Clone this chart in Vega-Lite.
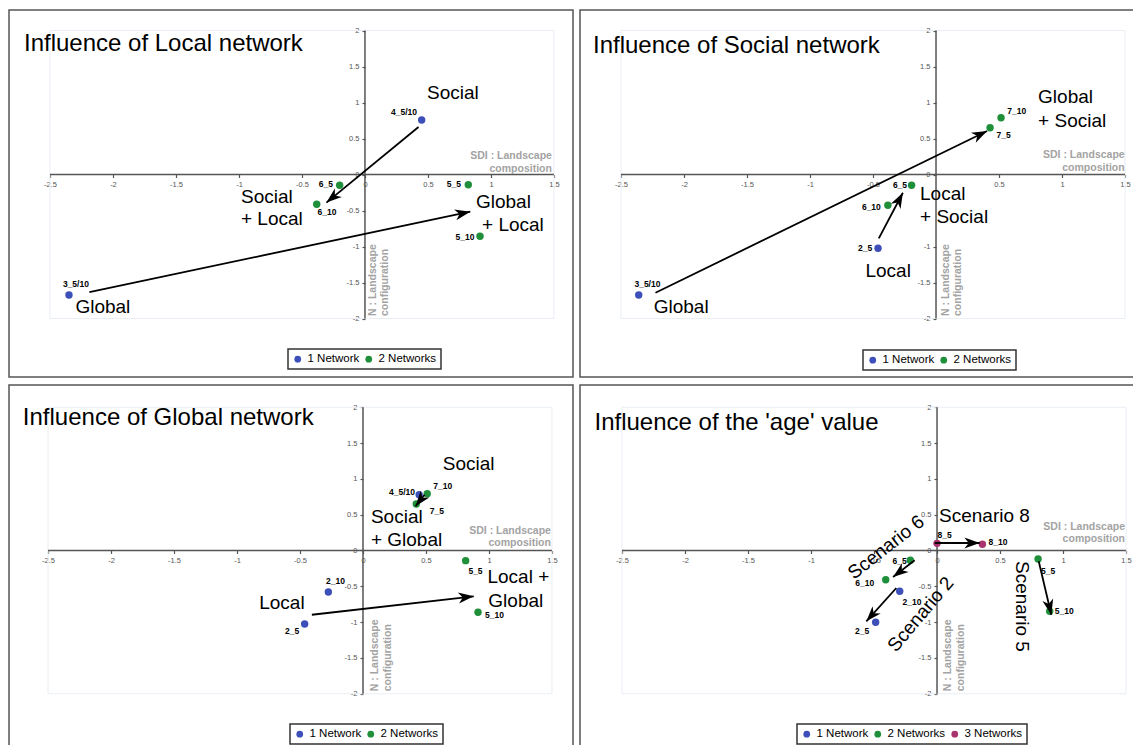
{
"$schema": "https://vega.github.io/schema/vega-lite/v6.json",
"padding": {"left": 8, "top": 9, "right": 0, "bottom": 0},
"background": "#ffffff",
"config": {
  "font": "Liberation Sans",
  "view": {"stroke": "#555555", "strokeWidth": 1.5},
  "locale": {"number": {"decimal": ".", "thousands": ",", "grouping": [3], "currency": ["$", ""], "minus": "-"}},
  "legend": {"labelFont": "Liberation Sans", "labelFontSize": 11.5, "labelColor": "#000000", "symbolType": "circle", "symbolSize": 45, "strokeColor": "#333333", "strokeWidth": 1.5, "padding": 4, "columnPadding": 3, "labelOffset": 4, "fillColor": "#ffffff", "symbolStrokeWidth": 0},
  "axis": {"title": null, "domain": false, "grid": false, "tickSize": 3, "tickColor": "#555555", "tickWidth": 1.2, "labelFontSize": 7.5, "labelColor": "#555555", "labelPadding": 3, "labelFlush": false, "labelOverlap": false, "format": "~g"}
},
"datasets": {
  "frame": [{"x": -2.5, "x2": 1.5, "y": -2, "y2": 2}],
  "axislines": [{"x": -2.5, "x2": 1.5, "y": 0, "y2": 0}, {"x": 0, "x2": 0, "y": -2, "y2": 2}],
  "points": [
    {"panel": 1, "id": "4_5/10", "net": "1 Network", "x": 0.45, "y": 0.757},
    {"panel": 1, "id": "3_5/10", "net": "1 Network", "x": -2.349, "y": -1.674},
    {"panel": 1, "id": "6_5", "net": "2 Networks", "x": -0.201, "y": -0.15},
    {"panel": 1, "id": "6_10", "net": "2 Networks", "x": -0.383, "y": -0.414},
    {"panel": 1, "id": "5_5", "net": "2 Networks", "x": 0.82, "y": -0.142},
    {"panel": 1, "id": "5_10", "net": "2 Networks", "x": 0.913, "y": -0.858},
    {"panel": 2, "id": "3_5/10", "net": "1 Network", "x": -2.359, "y": -1.674},
    {"panel": 2, "id": "2_5", "net": "1 Network", "x": -0.46, "y": -1.025},
    {"panel": 2, "id": "6_10", "net": "2 Networks", "x": -0.382, "y": -0.428},
    {"panel": 2, "id": "6_5", "net": "2 Networks", "x": -0.194, "y": -0.15},
    {"panel": 2, "id": "7_5", "net": "2 Networks", "x": 0.429, "y": 0.65},
    {"panel": 2, "id": "7_10", "net": "2 Networks", "x": 0.516, "y": 0.789},
    {"panel": 3, "id": "4_5/10", "net": "1 Network", "x": 0.446, "y": 0.779},
    {"panel": 3, "id": "7_10", "net": "2 Networks", "x": 0.51, "y": 0.793},
    {"panel": 3, "id": "7_5", "net": "2 Networks", "x": 0.423, "y": 0.649},
    {"panel": 3, "id": "2_10", "net": "1 Network", "x": -0.275, "y": -0.58},
    {"panel": 3, "id": "2_5", "net": "1 Network", "x": -0.463, "y": -1.027},
    {"panel": 3, "id": "5_5", "net": "2 Networks", "x": 0.815, "y": -0.142},
    {"panel": 3, "id": "5_10", "net": "2 Networks", "x": 0.913, "y": -0.863},
    {"panel": 4, "id": "8_5", "net": "3 Networks", "x": 0.0, "y": 0.1},
    {"panel": 4, "id": "8_10", "net": "3 Networks", "x": 0.36, "y": 0.087},
    {"panel": 4, "id": "6_5", "net": "2 Networks", "x": -0.212, "y": -0.137},
    {"panel": 4, "id": "6_10", "net": "2 Networks", "x": -0.407, "y": -0.408},
    {"panel": 4, "id": "2_10", "net": "1 Network", "x": -0.296, "y": -0.57},
    {"panel": 4, "id": "2_5", "net": "1 Network", "x": -0.487, "y": -1.003},
    {"panel": 4, "id": "5_5", "net": "2 Networks", "x": 0.802, "y": -0.119},
    {"panel": 4, "id": "5_10", "net": "2 Networks", "x": 0.894, "y": -0.849}
  ],
  "smalllabels": [
    {"panel": 1, "text": "4_5/10", "x": 0.31, "y": 0.868},
    {"panel": 1, "text": "3_5/10", "x": -2.294, "y": -1.521},
    {"panel": 1, "text": "6_5", "x": -0.31, "y": -0.132},
    {"panel": 1, "text": "6_10", "x": -0.302, "y": -0.521},
    {"panel": 1, "text": "5_5", "x": 0.706, "y": -0.132},
    {"panel": 1, "text": "5_10", "x": 0.794, "y": -0.868},
    {"panel": 2, "text": "3_5/10", "x": -2.29, "y": -1.521},
    {"panel": 2, "text": "2_5", "x": -0.563, "y": -1.021},
    {"panel": 2, "text": "6_10", "x": -0.513, "y": -0.447},
    {"panel": 2, "text": "6_5", "x": -0.286, "y": -0.146},
    {"panel": 2, "text": "7_5", "x": 0.536, "y": 0.549},
    {"panel": 2, "text": "7_10", "x": 0.641, "y": 0.882},
    {"panel": 3, "text": "4_5/10", "x": 0.31, "y": 0.813},
    {"panel": 3, "text": "7_10", "x": 0.633, "y": 0.897},
    {"panel": 3, "text": "7_5", "x": 0.587, "y": 0.556},
    {"panel": 3, "text": "2_10", "x": -0.218, "y": -0.422},
    {"panel": 3, "text": "2_5", "x": -0.563, "y": -1.12},
    {"panel": 3, "text": "5_5", "x": 0.893, "y": -0.29},
    {"panel": 3, "text": "5_10", "x": 1.044, "y": -0.9},
    {"panel": 4, "text": "8_5", "x": 0.061, "y": 0.21},
    {"panel": 4, "text": "8_10", "x": 0.484, "y": 0.115},
    {"panel": 4, "text": "6_5", "x": -0.296, "y": -0.15},
    {"panel": 4, "text": "6_10", "x": -0.574, "y": -0.45},
    {"panel": 4, "text": "2_10", "x": -0.198, "y": -0.72},
    {"panel": 4, "text": "2_5", "x": -0.595, "y": -1.12},
    {"panel": 4, "text": "5_5", "x": 0.881, "y": -0.28},
    {"panel": 4, "text": "5_10", "x": 1.01, "y": -0.85}
  ],
  "arrows": [
    {"panel": 1, "x2": 0.425, "y2": 0.66, "x": -0.306, "y": -0.39},
    {"panel": 1, "x2": -2.187, "y2": -1.632, "x": 0.836, "y": -0.517},
    {"panel": 2, "x2": -2.226, "y2": -1.642, "x": 0.406, "y": 0.604},
    {"panel": 2, "x2": -0.454, "y2": -0.886, "x": -0.263, "y": -0.253},
    {"panel": 3, "x2": 0.489, "y2": 0.779, "x": 0.417, "y": 0.617},
    {"panel": 3, "x2": -0.406, "y2": -0.897, "x": 0.879, "y": -0.64},
    {"panel": 4, "x2": -0.018, "y2": 0.105, "x": 0.339, "y": 0.105},
    {"panel": 4, "x2": -0.177, "y2": -0.137, "x": -0.349, "y": -0.37},
    {"panel": 4, "x2": -0.323, "y2": -0.524, "x": -0.561, "y": -0.989},
    {"panel": 4, "x2": 0.807, "y2": -0.151, "x": 0.907, "y": -0.897}
  ],
  "biglabels": [
    {"panel": 1, "text": "Social", "x": 0.492, "y": 1.049},
    {"panel": 1, "text": "Social", "x": -0.984, "y": -0.396},
    {"panel": 1, "text": "+ Local", "x": -0.984, "y": -0.7},
    {"panel": 1, "text": "Global", "x": 0.881, "y": -0.465},
    {"panel": 1, "text": "+ Local", "x": 0.929, "y": -0.785},
    {"panel": 1, "text": "Global", "x": -2.298, "y": -1.924},
    {"panel": 2, "text": "Global", "x": 0.81, "y": 0.993},
    {"panel": 2, "text": "+ Social", "x": 0.81, "y": 0.66},
    {"panel": 2, "text": "Local", "x": -0.127, "y": -0.354},
    {"panel": 2, "text": "+ Social", "x": -0.127, "y": -0.674},
    {"panel": 2, "text": "Local", "x": -0.56, "y": -1.424},
    {"panel": 2, "text": "Global", "x": -2.24, "y": -1.924},
    {"panel": 3, "text": "Social", "x": 0.633, "y": 1.12},
    {"panel": 3, "text": "Social", "x": 0.063, "y": 0.384},
    {"panel": 3, "text": "+ Global", "x": 0.063, "y": 0.059},
    {"panel": 3, "text": "Local +", "x": 0.988, "y": -0.454},
    {"panel": 3, "text": "Global", "x": 0.995, "y": -0.785},
    {"panel": 3, "text": "Local", "x": -0.824, "y": -0.817},
    {"panel": 4, "text": "Scenario 8", "x": 0.016, "y": 0.394},
    {"panel": 4, "text": "Scenario 6", "x": -0.659, "y": -0.412},
    {"panel": 4, "text": "Scenario 2", "x": -0.325, "y": -1.432},
    {"panel": 4, "text": "Scenario 5", "x": 0.627, "y": -0.147}
  ],
  "axtitles": [
    {"panel": 1, "kind": "sdi", "text": "SDI : Landscape\ncomposition", "x": 1.484, "y": 0.215},
    {"panel": 1, "kind": "n", "text": "N : Landscape\nconfiguration", "x": 0.087, "y": -1.965},
    {"panel": 2, "kind": "sdi", "text": "SDI : Landscape\ncomposition", "x": 1.497, "y": 0.229},
    {"panel": 2, "kind": "n", "text": "N : Landscape\nconfiguration", "x": 0.103, "y": -1.965},
    {"panel": 3, "kind": "sdi", "text": "SDI : Landscape\ncomposition", "x": 1.492, "y": 0.235},
    {"panel": 3, "kind": "n", "text": "N : Landscape\nconfiguration", "x": 0.12, "y": -1.966},
    {"panel": 4, "kind": "sdi", "text": "SDI : Landscape\ncomposition", "x": 1.492, "y": 0.29},
    {"panel": 4, "kind": "n", "text": "N : Landscape\nconfiguration", "x": 0.111, "y": -1.966}
  ],
  "titles": [
    {"panel": 1, "text": "Influence of Local network", "x": -2.706, "y": 1.715},
    {"panel": 2, "text": "Influence of Social network", "x": -2.722, "y": 1.69},
    {"panel": 3, "text": "Influence of Global network", "x": -2.7, "y": 1.757},
    {"panel": 4, "text": "Influence of the 'age' value", "x": -2.718, "y": 1.687}
  ]
},
"resolve": {"scale": {"color": "independent"}, "legend": {"color": "independent"}},
"spacing": 6,
"vconcat": [
 {
  "spacing": 5,
  "resolve": {"scale": {"color": "independent"}, "legend": {"color": "independent"}},
  "hconcat": [
   {
    "width": 564, "height": 367,
    "encoding": {
      "x": {"field": "x", "type": "quantitative", "scale": {"domain": [-2.825, 1.651], "nice": false, "zero": false}, "axis": {"title": null, "values": [-2.5, -2, -1.5, -1, -0.5, 0, 0.5, 1, 1.5], "offset": -202.5}},
      "y": {"field": "y", "type": "quantitative", "scale": {"domain": [-2.8125, 2.285], "nice": false, "zero": false}, "axis": {"title": null, "values": [-2, -1.5, -1, -0.5, 0, 0.5, 1, 1.5, 2], "offset": -356}}
    },
    "layer": [
      {"data": {"name": "frame"}, "mark": {"type": "rect", "fillOpacity": 0, "stroke": "#e9eef4", "strokeWidth": 1}, "encoding": {"x2": {"field": "x2"}, "y2": {"field": "y2"}}},
      {"data": {"name": "axislines"}, "mark": {"type": "rule", "color": "#555555", "strokeWidth": 1.5}, "encoding": {"x2": {"field": "x2"}, "y2": {"field": "y2"}}},
      {"data": {"name": "points"}, "transform": [{"filter": "datum.panel == 1"}], "mark": {"type": "point", "filled": true, "size": 55, "opacity": 1}, "encoding": {"color": {"field": "net", "type": "nominal", "scale": {"domain": ["1 Network", "2 Networks"], "range": ["#3d4fb8", "#1f8f3a"]}, "legend": {"orient": "none", "legendX": 279, "legendY": 339, "direction": "horizontal", "title": null}}}},
      {"data": {"name": "arrows"}, "transform": [{"filter": "datum.panel == 1"}], "mark": {"type": "rule", "color": "#000000", "strokeWidth": 1.8}, "encoding": {"x2": {"field": "x2"}, "y2": {"field": "y2"}}},
      {"data": {"name": "arrows"}, "transform": [{"filter": "datum.panel == 1"}, {"calculate": "atan2((datum.x - datum.x2) * 126, (datum.y - datum.y2) * 72) * 180 / PI", "as": "ang"}], "mark": {"type": "point", "shape": "M0,0L0.5,1.4L0,1L-0.5,1.4Z", "filled": true, "color": "#000000", "size": 484, "opacity": 1, "strokeWidth": 0}, "encoding": {"angle": {"field": "ang", "type": "quantitative", "scale": null}}},
      {"data": {"name": "smalllabels"}, "transform": [{"filter": "datum.panel == 1"}], "mark": {"type": "text", "fontSize": 8.5, "fontWeight": "bold", "color": "#000000", "align": "center", "baseline": "middle"}, "encoding": {"text": {"field": "text"}}},
      {"data": {"name": "biglabels"}, "transform": [{"filter": "datum.panel == 1"}], "mark": {"type": "text", "fontSize": 19, "color": "#000000", "align": "left", "baseline": "alphabetic"}, "encoding": {"text": {"field": "text"}}},
      {"data": {"name": "axtitles"}, "transform": [{"filter": "datum.panel == 1 && datum.kind == 'sdi'"}], "mark": {"type": "text", "fontSize": 10.5, "fontWeight": "bold", "color": "#a3a3a3", "align": "right", "baseline": "alphabetic", "lineBreak": "\n", "lineHeight": 12.5}, "encoding": {"text": {"field": "text"}}},
      {"data": {"name": "axtitles"}, "transform": [{"filter": "datum.panel == 1 && datum.kind == 'n'"}], "mark": {"type": "text", "fontSize": 10.5, "fontWeight": "bold", "color": "#a3a3a3", "align": "left", "baseline": "alphabetic", "angle": 270, "lineBreak": "\n", "lineHeight": 12.5}, "encoding": {"text": {"field": "text"}}},
      {"data": {"name": "titles"}, "transform": [{"filter": "datum.panel == 1"}], "mark": {"type": "text", "fontSize": 24, "color": "#000000", "align": "left", "baseline": "alphabetic"}, "encoding": {"text": {"field": "text"}}}
    ]
   },
   {
    "width": 555, "height": 367,
    "encoding": {
      "x": {"field": "x", "type": "quantitative", "scale": {"domain": [-2.825, 1.579], "nice": false, "zero": false}, "axis": {"title": null, "values": [-2.5, -2, -1.5, -1, -0.5, 0.5, 1, 1.5], "offset": -202.5}},
      "y": {"field": "y", "type": "quantitative", "scale": {"domain": [-2.8125, 2.285], "nice": false, "zero": false}, "axis": {"title": null, "values": [-2, -1.5, -1, 0, 0.5, 1, 1.5, 2], "offset": -356}}
    },
    "layer": [
      {"data": {"name": "frame"}, "mark": {"type": "rect", "fillOpacity": 0, "stroke": "#e9eef4", "strokeWidth": 1}, "encoding": {"x2": {"field": "x2"}, "y2": {"field": "y2"}}},
      {"data": {"name": "axislines"}, "mark": {"type": "rule", "color": "#555555", "strokeWidth": 1.5}, "encoding": {"x2": {"field": "x2"}, "y2": {"field": "y2"}}},
      {"data": {"name": "points"}, "transform": [{"filter": "datum.panel == 2"}], "mark": {"type": "point", "filled": true, "size": 55, "opacity": 1}, "encoding": {"color": {"field": "net", "type": "nominal", "scale": {"domain": ["1 Network", "2 Networks"], "range": ["#3d4fb8", "#1f8f3a"]}, "legend": {"orient": "none", "legendX": 283, "legendY": 340, "direction": "horizontal", "title": null}}}},
      {"data": {"name": "arrows"}, "transform": [{"filter": "datum.panel == 2"}], "mark": {"type": "rule", "color": "#000000", "strokeWidth": 1.8}, "encoding": {"x2": {"field": "x2"}, "y2": {"field": "y2"}}},
      {"data": {"name": "arrows"}, "transform": [{"filter": "datum.panel == 2"}, {"calculate": "atan2((datum.x - datum.x2) * 126, (datum.y - datum.y2) * 72) * 180 / PI", "as": "ang"}], "mark": {"type": "point", "shape": "M0,0L0.5,1.4L0,1L-0.5,1.4Z", "filled": true, "color": "#000000", "size": 484, "opacity": 1, "strokeWidth": 0}, "encoding": {"angle": {"field": "ang", "type": "quantitative", "scale": null}}},
      {"data": {"name": "smalllabels"}, "transform": [{"filter": "datum.panel == 2"}], "mark": {"type": "text", "fontSize": 8.5, "fontWeight": "bold", "color": "#000000", "align": "center", "baseline": "middle"}, "encoding": {"text": {"field": "text"}}},
      {"data": {"name": "biglabels"}, "transform": [{"filter": "datum.panel == 2"}], "mark": {"type": "text", "fontSize": 19, "color": "#000000", "align": "left", "baseline": "alphabetic"}, "encoding": {"text": {"field": "text"}}},
      {"data": {"name": "axtitles"}, "transform": [{"filter": "datum.panel == 2 && datum.kind == 'sdi'"}], "mark": {"type": "text", "fontSize": 10.5, "fontWeight": "bold", "color": "#a3a3a3", "align": "right", "baseline": "alphabetic", "lineBreak": "\n", "lineHeight": 12.5}, "encoding": {"text": {"field": "text"}}},
      {"data": {"name": "axtitles"}, "transform": [{"filter": "datum.panel == 2 && datum.kind == 'n'"}], "mark": {"type": "text", "fontSize": 10.5, "fontWeight": "bold", "color": "#a3a3a3", "align": "left", "baseline": "alphabetic", "angle": 270, "lineBreak": "\n", "lineHeight": 12.5}, "encoding": {"text": {"field": "text"}}},
      {"data": {"name": "titles"}, "transform": [{"filter": "datum.panel == 2"}], "mark": {"type": "text", "fontSize": 24, "color": "#000000", "align": "left", "baseline": "alphabetic"}, "encoding": {"text": {"field": "text"}}}
    ]
   }
  ]
 },
 {
  "spacing": 5,
  "resolve": {"scale": {"color": "independent"}, "legend": {"color": "independent"}},
  "hconcat": [
   {
    "width": 564, "height": 362,
    "encoding": {
      "x": {"field": "x", "type": "quantitative", "scale": {"domain": [-2.81, 1.667], "nice": false, "zero": false}, "axis": {"title": null, "values": [-2.5, -2, -1.5, -1, -0.5, 0, 0.5, 1, 1.5], "offset": -196.5}},
      "y": {"field": "y", "type": "quantitative", "scale": {"domain": [-2.744, 2.311], "nice": false, "zero": false}, "axis": {"title": null, "values": [-2, -1.5, -1, -0.5, 0, 0.5, 1, 1.5, 2], "offset": -354}}
    },
    "layer": [
      {"data": {"name": "frame"}, "mark": {"type": "rect", "fillOpacity": 0, "stroke": "#e9eef4", "strokeWidth": 1}, "encoding": {"x2": {"field": "x2"}, "y2": {"field": "y2"}}},
      {"data": {"name": "axislines"}, "mark": {"type": "rule", "color": "#555555", "strokeWidth": 1.5}, "encoding": {"x2": {"field": "x2"}, "y2": {"field": "y2"}}},
      {"data": {"name": "points"}, "transform": [{"filter": "datum.panel == 3"}], "mark": {"type": "point", "filled": true, "size": 55, "opacity": 1}, "encoding": {"color": {"field": "net", "type": "nominal", "scale": {"domain": ["1 Network", "2 Networks"], "range": ["#3d4fb8", "#1f8f3a"]}, "legend": {"orient": "none", "legendX": 281, "legendY": 339, "direction": "horizontal", "title": null}}}},
      {"data": {"name": "arrows"}, "transform": [{"filter": "datum.panel == 3"}], "mark": {"type": "rule", "color": "#000000", "strokeWidth": 1.8}, "encoding": {"x2": {"field": "x2"}, "y2": {"field": "y2"}}},
      {"data": {"name": "arrows"}, "transform": [{"filter": "datum.panel == 3"}, {"calculate": "atan2((datum.x - datum.x2) * 126, (datum.y - datum.y2) * 71.6) * 180 / PI", "as": "ang"}], "mark": {"type": "point", "shape": "M0,0L0.5,1.4L0,1L-0.5,1.4Z", "filled": true, "color": "#000000", "size": 484, "opacity": 1, "strokeWidth": 0}, "encoding": {"angle": {"field": "ang", "type": "quantitative", "scale": null}}},
      {"data": {"name": "smalllabels"}, "transform": [{"filter": "datum.panel == 3"}], "mark": {"type": "text", "fontSize": 8.5, "fontWeight": "bold", "color": "#000000", "align": "center", "baseline": "middle"}, "encoding": {"text": {"field": "text"}}},
      {"data": {"name": "biglabels"}, "transform": [{"filter": "datum.panel == 3"}], "mark": {"type": "text", "fontSize": 19, "color": "#000000", "align": "left", "baseline": "alphabetic"}, "encoding": {"text": {"field": "text"}}},
      {"data": {"name": "axtitles"}, "transform": [{"filter": "datum.panel == 3 && datum.kind == 'sdi'"}], "mark": {"type": "text", "fontSize": 10.5, "fontWeight": "bold", "color": "#a3a3a3", "align": "right", "baseline": "alphabetic", "lineBreak": "\n", "lineHeight": 12.5}, "encoding": {"text": {"field": "text"}}},
      {"data": {"name": "axtitles"}, "transform": [{"filter": "datum.panel == 3 && datum.kind == 'n'"}], "mark": {"type": "text", "fontSize": 10.5, "fontWeight": "bold", "color": "#a3a3a3", "align": "left", "baseline": "alphabetic", "angle": 270, "lineBreak": "\n", "lineHeight": 12.5}, "encoding": {"text": {"field": "text"}}},
      {"data": {"name": "titles"}, "transform": [{"filter": "datum.panel == 3"}], "mark": {"type": "text", "fontSize": 24, "color": "#000000", "align": "left", "baseline": "alphabetic"}, "encoding": {"text": {"field": "text"}}}
    ]
   },
   {
    "width": 555, "height": 362,
    "encoding": {
      "x": {"field": "x", "type": "quantitative", "scale": {"domain": [-2.833, 1.571], "nice": false, "zero": false}, "axis": {"title": null, "values": [-2.5, -2, -1.5, -1, -0.5, 0, 0.5, 1, 1.5], "offset": -196.5}},
      "y": {"field": "y", "type": "quantitative", "scale": {"domain": [-2.744, 2.311], "nice": false, "zero": false}, "axis": {"title": null, "values": [-2, -1.5, -1, -0.5, 0, 0.5, 1, 1.5, 2], "offset": -357}}
    },
    "layer": [
      {"data": {"name": "frame"}, "mark": {"type": "rect", "fillOpacity": 0, "stroke": "#e9eef4", "strokeWidth": 1}, "encoding": {"x2": {"field": "x2"}, "y2": {"field": "y2"}}},
      {"data": {"name": "axislines"}, "mark": {"type": "rule", "color": "#555555", "strokeWidth": 1.5}, "encoding": {"x2": {"field": "x2"}, "y2": {"field": "y2"}}},
      {"data": {"name": "points"}, "transform": [{"filter": "datum.panel == 4"}], "mark": {"type": "point", "filled": true, "size": 55, "opacity": 1}, "encoding": {"color": {"field": "net", "type": "nominal", "scale": {"domain": ["1 Network", "2 Networks", "3 Networks"], "range": ["#3d4fb8", "#1f8f3a", "#a8336e"]}, "legend": {"orient": "none", "legendX": 217, "legendY": 339, "direction": "horizontal", "title": null}}}},
      {"data": {"name": "arrows"}, "transform": [{"filter": "datum.panel == 4"}], "mark": {"type": "rule", "color": "#000000", "strokeWidth": 1.8}, "encoding": {"x2": {"field": "x2"}, "y2": {"field": "y2"}}},
      {"data": {"name": "arrows"}, "transform": [{"filter": "datum.panel == 4"}, {"calculate": "atan2((datum.x - datum.x2) * 126, (datum.y - datum.y2) * 71.6) * 180 / PI", "as": "ang"}], "mark": {"type": "point", "shape": "M0,0L0.5,1.4L0,1L-0.5,1.4Z", "filled": true, "color": "#000000", "size": 484, "opacity": 1, "strokeWidth": 0}, "encoding": {"angle": {"field": "ang", "type": "quantitative", "scale": null}}},
      {"data": {"name": "smalllabels"}, "transform": [{"filter": "datum.panel == 4"}], "mark": {"type": "text", "fontSize": 8.5, "fontWeight": "bold", "color": "#000000", "align": "center", "baseline": "middle"}, "encoding": {"text": {"field": "text"}}},
      {"data": {"name": "biglabels"}, "transform": [{"filter": "datum.panel == 4 && datum.text == 'Scenario 8'"}], "mark": {"type": "text", "fontSize": 19, "color": "#000000", "align": "left", "baseline": "alphabetic"}, "encoding": {"text": {"field": "text"}}},
      {"data": {"name": "biglabels"}, "transform": [{"filter": "datum.panel == 4 && datum.text == 'Scenario 6'"}], "mark": {"type": "text", "fontSize": 19, "color": "#000000", "align": "left", "baseline": "alphabetic", "angle": 322}, "encoding": {"text": {"field": "text"}}},
      {"data": {"name": "biglabels"}, "transform": [{"filter": "datum.panel == 4 && datum.text == 'Scenario 2'"}], "mark": {"type": "text", "fontSize": 19, "color": "#000000", "align": "left", "baseline": "alphabetic", "angle": 310}, "encoding": {"text": {"field": "text"}}},
      {"data": {"name": "biglabels"}, "transform": [{"filter": "datum.panel == 4 && datum.text == 'Scenario 5'"}], "mark": {"type": "text", "fontSize": 19, "color": "#000000", "align": "left", "baseline": "alphabetic", "angle": 90}, "encoding": {"text": {"field": "text"}}},
      {"data": {"name": "axtitles"}, "transform": [{"filter": "datum.panel == 4 && datum.kind == 'sdi'"}], "mark": {"type": "text", "fontSize": 10.5, "fontWeight": "bold", "color": "#a3a3a3", "align": "right", "baseline": "alphabetic", "lineBreak": "\n", "lineHeight": 12.5}, "encoding": {"text": {"field": "text"}}},
      {"data": {"name": "axtitles"}, "transform": [{"filter": "datum.panel == 4 && datum.kind == 'n'"}], "mark": {"type": "text", "fontSize": 10.5, "fontWeight": "bold", "color": "#a3a3a3", "align": "left", "baseline": "alphabetic", "angle": 270, "lineBreak": "\n", "lineHeight": 12.5}, "encoding": {"text": {"field": "text"}}},
      {"data": {"name": "titles"}, "transform": [{"filter": "datum.panel == 4"}], "mark": {"type": "text", "fontSize": 24, "color": "#000000", "align": "left", "baseline": "alphabetic"}, "encoding": {"text": {"field": "text"}}}
    ]
   }
  ]
 }
]
}
